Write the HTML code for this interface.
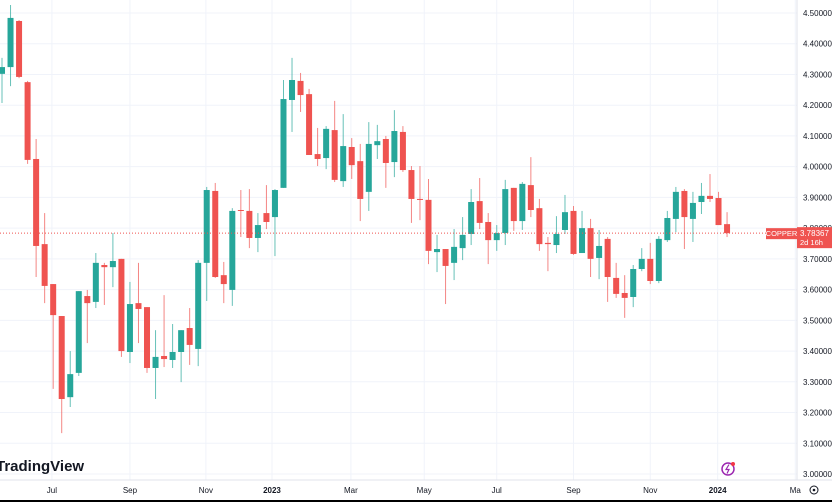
<!DOCTYPE html>
<html><head><meta charset="utf-8"><style>
html,body{margin:0;padding:0;background:#fff;}
svg{display:block;font-family:"Liberation Sans",sans-serif;}
</style></head><body>
<svg id="chart" width="832" height="502" viewBox="0 0 832 502" xmlns="http://www.w3.org/2000/svg">
<rect x="0" y="0" width="832" height="502" fill="#ffffff"/>
<g id="grid"></g>
<g id="candles"></g>
<g id="yaxis"></g>
<g id="xaxis"></g>
<line x1="797" y1="0" x2="797" y2="480" stroke="#e0e3eb"/>
<line x1="0" y1="480" x2="832" y2="480" stroke="#e0e3eb"/>
<text x="-4" y="471" font-size="15" font-weight="bold" fill="#131722">TradingView</text>
<g>
<circle cx="728" cy="469" r="6" fill="none" stroke="#9c27b0" stroke-width="1.5"/>
<path d="M729 464.5 L726 469.5 L729 469.5 L727 473.5" fill="none" stroke="#9c27b0" stroke-width="1.2"/>
<circle cx="733" cy="464" r="2" fill="#f23645"/>
</g>
<g>
<circle cx="814" cy="490" r="4" fill="none" stroke="#131722" stroke-width="1"/>
<circle cx="814" cy="490" r="1.3" fill="#131722"/>
</g>
<rect x="0" y="500" width="832" height="2" fill="#000"/>
<g id="lastlabel"></g>
</svg>
<script>
const opens  = [4.302,4.324,4.474,4.275,4.025,3.748,3.618,3.514,3.250,3.329,3.579,3.560,3.680,3.673,3.700,3.397,3.556,3.543,3.345,3.384,3.371,3.397,3.475,3.407,3.687,3.921,3.647,3.599,3.859,3.856,3.768,3.849,3.836,3.931,4.217,4.279,4.236,4.041,4.028,4.119,3.953,4.064,4.018,3.918,4.070,4.090,4.015,4.113,3.989,3.895,3.892,3.722,3.732,3.687,3.735,3.781,3.888,3.820,3.761,3.784,3.931,3.823,3.940,3.865,3.752,3.745,3.794,3.856,3.719,3.800,3.703,3.765,3.638,3.589,3.576,3.667,3.700,3.628,3.761,3.830,3.921,3.830,3.885,3.905,3.898,3.813];
const highs  = [4.354,4.526,4.477,4.279,4.090,3.849,3.618,3.514,3.400,3.595,3.599,3.719,3.687,3.784,3.700,3.625,3.687,3.543,3.468,3.582,3.488,3.468,3.540,3.696,3.934,3.947,3.690,3.865,3.924,3.927,3.849,3.940,3.927,4.282,4.354,4.305,4.253,4.126,4.132,4.214,4.171,4.093,4.074,4.145,4.136,4.100,4.184,4.132,4.002,4.002,3.960,3.778,3.732,3.797,3.836,3.927,3.963,3.849,3.810,3.957,3.931,3.950,4.031,3.895,3.771,3.839,3.908,3.872,3.856,3.830,3.794,3.771,3.687,3.647,3.680,3.735,3.752,3.774,3.856,3.934,3.927,3.918,3.947,3.976,3.918,3.852];
const lows   = [4.207,4.262,4.288,4.009,3.641,3.556,3.277,3.133,3.218,3.319,3.426,3.540,3.550,3.608,3.381,3.361,3.426,3.329,3.244,3.348,3.345,3.299,3.355,3.351,3.563,3.638,3.556,3.547,3.771,3.735,3.722,3.797,3.709,3.931,4.113,4.178,4.038,4.002,3.992,3.950,3.934,3.960,3.823,3.856,4.025,3.931,3.966,3.983,3.817,3.826,3.683,3.657,3.553,3.631,3.696,3.745,3.797,3.683,3.726,3.745,3.791,3.794,3.836,3.726,3.660,3.719,3.781,3.713,3.719,3.641,3.634,3.560,3.573,3.508,3.543,3.660,3.618,3.621,3.755,3.787,3.732,3.755,3.846,3.885,3.810,3.771];
const closes = [4.324,4.484,4.292,4.022,3.742,3.612,3.517,3.244,3.325,3.595,3.556,3.687,3.673,3.693,3.400,3.553,3.537,3.345,3.381,3.374,3.397,3.468,3.420,3.687,3.924,3.641,3.618,3.856,3.856,3.768,3.810,3.820,3.924,4.220,4.282,4.233,4.038,4.025,4.123,3.957,4.067,4.005,3.895,4.074,4.083,4.012,4.116,3.989,3.895,3.892,3.726,3.732,3.677,3.739,3.778,3.885,3.817,3.761,3.784,3.927,3.823,3.944,3.859,3.748,3.748,3.781,3.852,3.716,3.800,3.700,3.742,3.641,3.586,3.573,3.667,3.700,3.628,3.765,3.833,3.918,3.836,3.882,3.905,3.895,3.810,3.78367];
const priceTicks = ["4.50000","4.40000","4.30000","4.20000","4.10000","4.00000","3.90000","3.80000","3.70000","3.60000","3.50000","3.40000","3.30000","3.20000","3.10000","3.00000"];
const monthLabels = ["Jul","Sep","Nov","2023","Mar","May","Jul","Sep","Nov","2024","Ma"];
const monthIndex = [5.85,15,23.9,31.65,40.9,49.5,58,67,76,83.9,93];
const symbolName = "COPPER";
const countdown = "2d 16h";

const NS="http://www.w3.org/2000/svg";
const yTop=13, yBot=474, pTop=4.5, pBot=3.0;
function yScale(p){return yTop+(pTop-p)/(pTop-pBot)*(yBot-yTop);}
const x0=2, step=8.53;
function xScale(i){return x0+i*step;}
function mk(tag,attrs,parent){const e=document.createElementNS(NS,tag);for(const k in attrs)e.setAttribute(k,attrs[k]);parent.appendChild(e);return e;}

const grid=document.getElementById('grid');
const yaxis=document.getElementById('yaxis');
priceTicks.forEach(function(t){
  const y=yScale(parseFloat(t));
  const gl=mk('line',{x1:0,x2:797,y1:y,y2:y,stroke:'#f0f3fa'},grid);
  
  
  const tx=mk('text',{x:803,y:y+3,'font-size':8,fill:'#131722'},yaxis);
  
  
  tx.textContent=t;
});
const xaxis=document.getElementById('xaxis');
monthLabels.forEach(function(m,k){
  const x=xScale(monthIndex[k]);
  const gl=mk('line',{x1:x,x2:x,y1:0,y2:480,stroke:'#f0f3fa'},grid);
  
  
  const tx=mk('text',{x:x,y:493,'font-size':8,fill:'#131722','text-anchor':'middle','font-weight':(m.length===4?'bold':'normal')},xaxis);
  
  
  tx.textContent=m;
});
const cg=document.getElementById('candles');
for(let i=0;i<opens.length;i++){
  const up=closes[i]>=opens[i];
  const col=up?'#26a69a':'#ef5350';
  const x=xScale(i);
  const g=mk('g',{},cg);
  
  
  mk('line',{x1:x,x2:x,y1:yScale(highs[i]),y2:yScale(lows[i]),stroke:col,'stroke-opacity':0.7,'stroke-width':1},g);
  const yt=yScale(Math.max(opens[i],closes[i])), yb=yScale(Math.min(opens[i],closes[i]));
  mk('rect',{x:x-3,y:yt,width:6,height:Math.max(1,yb-yt),fill:col},g);
}
const last=closes[closes.length-1];
const ly=yScale(last);
const ll=document.getElementById('lastlabel');
const dl=mk('line',{x1:0,x2:797,y1:ly,y2:ly,stroke:'#ef5350','stroke-dasharray':'1,2','stroke-width':1},ll);


mk('rect',{x:766,y:ly-5,width:31,height:11,fill:'#ef5350'},ll);
const sn=mk('text',{x:781.5,y:ly+3,'font-size':7.5,fill:'#fff','text-anchor':'middle'},ll);


sn.textContent=symbolName;
mk('rect',{x:797,y:ly-6,width:35,height:21,fill:'#ef5350'},ll);
const pv=mk('text',{x:800,y:ly+3,'font-size':8,fill:'#fff'},ll);


pv.textContent=last.toFixed(5);
const cd=mk('text',{x:800,y:ly+12,'font-size':7.5,fill:'#fff'},ll);


cd.textContent=countdown;
</script>
</body></html>
